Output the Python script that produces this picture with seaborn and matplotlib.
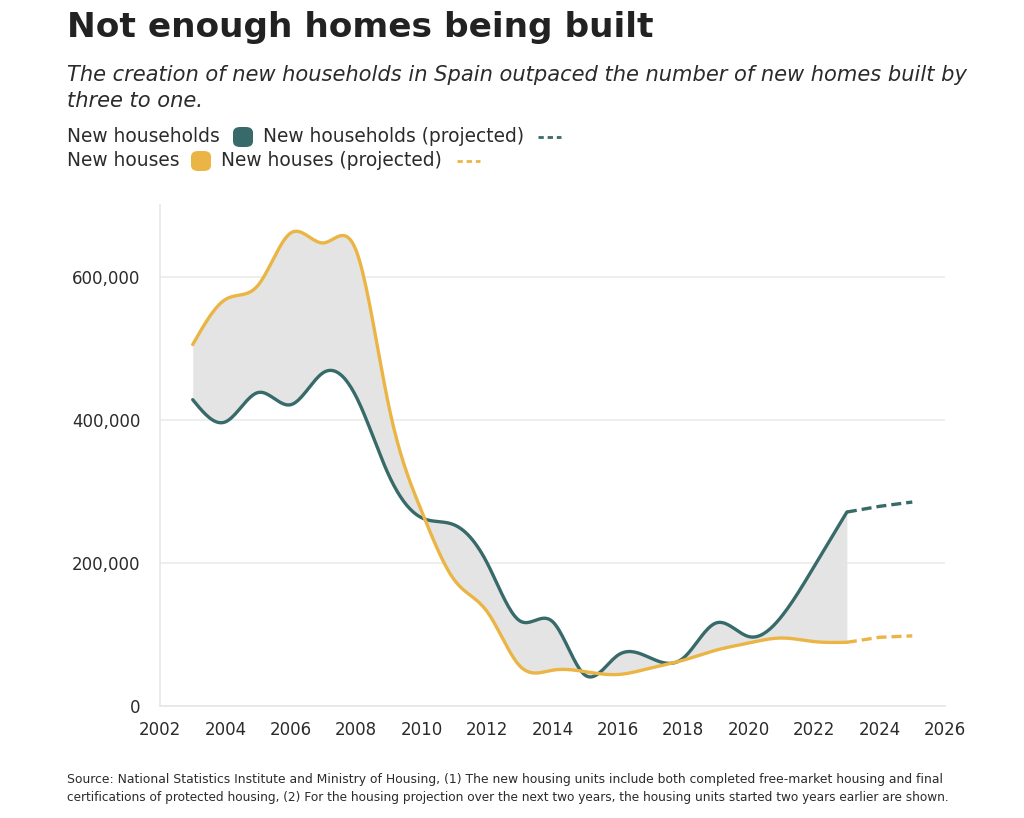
import numpy as np
import matplotlib
matplotlib.use("Agg")
import matplotlib.pyplot as plt
import seaborn as sns
import pandas as pd
from matplotlib.patches import FancyBboxPatch
from matplotlib.lines import Line2D

years = [2003, 2004, 2005, 2006, 2007, 2008, 2009, 2010, 2011, 2012, 2013,
         2014, 2015, 2016, 2017, 2018, 2019, 2020, 2021, 2022, 2023]
households = [428000, 397000, 438000, 421000, 466000, 432000, 322000, 263000,
              253000, 200000, 119000, 118000, 43000, 71000, 67000, 67000,
              116000, 97000, 125000, 195000, 271000]
houses = [505000, 568000, 588000, 661000, 647000, 636000, 418000, 272000,
          176000, 132000, 56000, 50000, 48000, 44000, 53000, 64000, 78000,
          88000, 95000, 90000, 89000]
proj_years = [2023, 2024, 2025]
households_proj = [271000, 279000, 285000]
houses_proj = [89000, 96000, 98000]

GREEN = "#386a6a"
YELLOW = "#ebb545"
TXT = "#2b2b2b"

sns.set_theme(style="white")
FONT = ['DejaVu Sans']
plt.rcParams['font.family'] = FONT


def natural_spline(x, y, n=20):
    x = np.asarray(x, float)
    y = np.asarray(y, float)
    m = len(x)
    h = np.diff(x)
    A = np.zeros((m, m))
    b = np.zeros(m)
    A[0, 0] = 1
    A[-1, -1] = 1
    for i in range(1, m - 1):
        A[i, i - 1] = h[i - 1]
        A[i, i] = 2 * (h[i - 1] + h[i])
        A[i, i + 1] = h[i]
        b[i] = 6 * ((y[i + 1] - y[i]) / h[i] - (y[i] - y[i - 1]) / h[i - 1])
    M = np.linalg.solve(A, b)
    xs, ys = [], []
    for i in range(m - 1):
        t = np.linspace(x[i], x[i + 1], n, endpoint=(i == m - 2))
        a = x[i + 1] - t
        c = t - x[i]
        v = (M[i] * a ** 3 + M[i + 1] * c ** 3) / (6 * h[i]) \
            + (y[i] / h[i] - M[i] * h[i] / 6) * a \
            + (y[i + 1] / h[i] - M[i + 1] * h[i] / 6) * c
        xs.append(t)
        ys.append(v)
    return np.concatenate(xs), np.concatenate(ys)


xs, hh_s = natural_spline(years, households)
_, ho_s = natural_spline(years, houses)

W, H = 1024, 818
fig = plt.figure(figsize=(W / 100, H / 100), dpi=100)
renderer = fig.canvas.get_renderer()


def fx(px):
    return px / W


def fy(py):
    return 1 - py / H


def fit_text(x, y, s, width_px, size=14, **kw):
    t = fig.text(fx(x), fy(y), s, fontsize=size, **kw)
    w = t.get_window_extent(renderer).width
    t.set_fontsize(size * width_px / w)
    return t


ax = fig.add_axes([fx(160), fy(706), fx(945) - fx(160), (706 - 205) / H])

ax.fill_between(xs, hh_s, ho_s, color="#e4e4e4", lw=0, zorder=1)
df = pd.DataFrame({"year": np.concatenate([xs, xs]),
                   "value": np.concatenate([hh_s, ho_s]),
                   "series": ["New households"] * len(xs) + ["New houses"] * len(xs)})
sns.lineplot(data=df, x="year", y="value", hue="series",
             palette={"New households": GREEN, "New houses": YELLOW},
             lw=2.4, ax=ax, legend=False, zorder=3, sort=False, estimator=None)
ax.plot(proj_years, households_proj, color=GREEN, lw=2.4, ls=(0, (3, 1.5)), zorder=3)
ax.plot(proj_years, houses_proj, color=YELLOW, lw=2.4, ls=(0, (3, 1.5)), zorder=3)

ax.set_xlim(2002, 2026)
ax.set_ylim(0, 700000)
ax.set_xticks(range(2002, 2027, 2))
ax.set_yticks([0, 200000, 400000, 600000])
ax.set_yticklabels(["0", "200,000", "400,000", "600,000"])
ax.set_xlabel("")
ax.set_ylabel("")
for s in ["top", "right"]:
    ax.spines[s].set_visible(False)
for s in ["left", "bottom"]:
    ax.spines[s].set_color("#e6e6e6")
    ax.spines[s].set_linewidth(1.2)
ax.yaxis.grid(True, color="#ebebeb", lw=1.2)
ax.set_axisbelow(True)
ax.tick_params(axis="both", colors="#e6e6e6", labelcolor=TXT,
               labelsize=12, length=7, width=1.2, direction="out")
ax.tick_params(axis="x", pad=4)
ax.tick_params(axis="y", length=8, pad=6)

# Title & subtitle
fit_text(67, 37, "Not enough homes being built", 588, size=24,
         fontweight="bold", color="#222222", ha="left", va="baseline")
sub = fit_text(67, 81,
               "The creation of new households in Spain outpaced the number of new homes built by",
               901, size=15, style="italic", color=TXT, ha="left", va="baseline")
fig.text(fx(67), fy(107), "three to one.", fontsize=sub.get_fontsize(), style="italic",
         color=TXT, ha="left", va="baseline")

# Legend (custom)
ref = fit_text(263, 137, "New households (projected)", 260, size=13,
               color=TXT, ha="left", va="center")
LS = ref.get_fontsize()


def legend_row(y_px, label, color, x_sq, x_lab2, label2, x_dash):
    fig.text(fx(67), fy(y_px), label, fontsize=LS, color=TXT, ha="left", va="center")
    sq = FancyBboxPatch((fx(x_sq), fy(y_px + 10)), 20 / W, 20 / H,
                        boxstyle="round,pad=0,rounding_size=0.007",
                        transform=fig.transFigure, facecolor=color, edgecolor="none")
    fig.patches.append(sq)
    if label2 is not None:
        fig.text(fx(x_lab2), fy(y_px), label2, fontsize=LS, color=TXT,
                 ha="left", va="center")
    fig.lines.append(Line2D([fx(x_dash), fx(x_dash + 23)], [fy(y_px), fy(y_px)],
                            transform=fig.transFigure, color=color, lw=2,
                            ls=(0, (1.9, 1.4)), solid_capstyle="butt",
                            dash_capstyle="butt"))


legend_row(137, "New households", GREEN, 233, 263, None, 538)
legend_row(161, "New houses", YELLOW, 191, 221, "New houses (projected)", 457)

fit_text(67, 779,
         "Source: National Statistics Institute and Ministry of Housing, (1) The new housing units include both completed free-market housing and final",
         876, size=9, color=TXT, ha="left", va="center")
fit_text(67, 797,
         "certifications of protected housing, (2) For the housing projection over the next two years, the housing units started two years earlier are shown.",
         878, size=9, color=TXT, ha="left", va="center")

fig.savefig("out.png", dpi=100, facecolor="white")
